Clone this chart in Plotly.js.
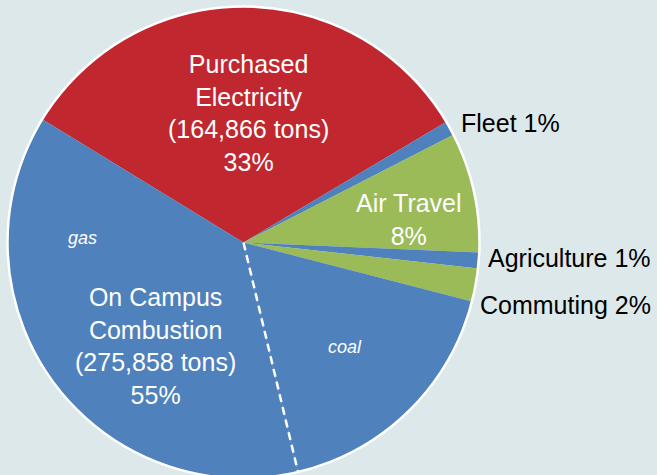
<!DOCTYPE html>
<html>
<head>
<meta charset="utf-8">
<script src="https://cdn.plot.ly/plotly-3.0.1.min.js"></script>
<style>
  html, body { margin: 0; padding: 0; overflow: hidden; background: #dde8ea; }
  #chart { width: 657px; height: 490px; }
</style>
</head>
<body>
<div id="chart"></div>
<script>
// ---- data ----
const categories = ['Purchased Electricity', 'Fleet', 'Air Travel', 'Agriculture', 'Commuting', 'On Campus Combustion - coal', 'On Campus Combustion - gas'];
const tons = [164866, 5000, 41500, 5400, 11500, 87000, 188858];
const onCampusTons = 275858;
const subLabels = ['coal', 'gas'];

// ---- styles ----
const RED = '#c1272f', BLUE = '#4f81bd', GREEN = '#9bbb59';
const sliceColors = [RED, BLUE, GREEN, BLUE, GREEN, BLUE, BLUE];
const W = 657, H = 490;
const FONT = 'Liberation Sans, Arial, sans-serif';

const total = tons.reduce((a, b) => a + b, 0);
const pct = v => Math.round(100 * v / total) + '%';
const fmt = v => v.toLocaleString('en-US');

// pie geometry (px)
const cxPx = 243.5, cyPx = 242.5, rPx = 236;
const domX = [(cxPx - rPx) / W, (cxPx + rPx) / W];
const domY = [1 - (cyPx + rPx) / H, 1 - (cyPx - rPx) / H];
const rotation = -58.5;

const pie = {
  type: 'pie',
  labels: categories,
  values: tons,
  sort: false,
  direction: 'clockwise',
  rotation: rotation,
  domain: { x: domX, y: domY },
  marker: { colors: sliceColors, line: { width: 0 } },
  textinfo: 'none',
  hoverinfo: 'none',
  showlegend: false
};
const ring = {
  type: 'pie',
  labels: ['outline'],
  values: [1],
  sort: false,
  domain: { x: domX, y: domY },
  marker: { colors: ['rgba(0,0,0,0)'], line: { color: '#ffffff', width: 2.5 } },
  textinfo: 'none',
  hoverinfo: 'none',
  showlegend: false
};

// dashed divider between coal and gas, from data angles
const cumCoal = tons.slice(0, 6).reduce((a, b) => a + b, 0);
const ang = (rotation + 360 * cumCoal / total) * Math.PI / 180;
const cxP = cxPx / W, cyP = 1 - cyPx / H;
const x1 = cxP + rPx * Math.sin(ang) / W;
const y1 = cyP + rPx * Math.cos(ang) / H;

const white = { family: FONT, size: 25, color: '#ffffff' };
const black = { family: FONT, size: 25, color: '#000000' };
const ital = { family: FONT, size: 18, color: '#ffffff', style: 'italic' };
const px = (x) => x / W, py = (y) => 1 - y / H;

const annotations = [
  { text: 'Purchased<br>Electricity<br>(' + fmt(tons[0]) + ' tons)<br>' + pct(tons[0]), x: px(248), y: py(113), font: white, xanchor: 'center', yanchor: 'middle' },
  { text: 'Air Travel<br>' + pct(tons[2]), x: px(409), y: py(219), font: white, xanchor: 'center', yanchor: 'middle' },
  { text: 'On Campus<br>Combustion<br>(' + fmt(onCampusTons) + ' tons)<br>' + pct(tons[5] + tons[6]), x: px(155), y: py(346), font: white, xanchor: 'center', yanchor: 'middle' },
  { text: subLabels[1], x: px(82), y: py(238), font: ital, xanchor: 'center', yanchor: 'middle' },
  { text: subLabels[0], x: px(345), y: py(347), font: ital, xanchor: 'center', yanchor: 'middle' },
  { text: 'Fleet ' + pct(tons[1]), x: px(460), y: py(123), font: black, xanchor: 'left', yanchor: 'middle' },
  { text: 'Agriculture ' + pct(tons[3]), x: px(487), y: py(258), font: black, xanchor: 'left', yanchor: 'middle' },
  { text: 'Commuting ' + pct(tons[4]), x: px(479), y: py(305), font: black, xanchor: 'left', yanchor: 'middle' }
].map(a => Object.assign({ xref: 'paper', yref: 'paper', showarrow: false, borderpad: 0 }, a));

const layout = {
  width: W, height: H,
  margin: { l: 0, r: 0, t: 0, b: 0 },
  paper_bgcolor: '#dde8ea',
  plot_bgcolor: '#dde8ea',
  showlegend: false,
  annotations: annotations,
  shapes: [{
    type: 'line', xref: 'paper', yref: 'paper',
    x0: cxP, y0: cyP, x1: x1, y1: y1,
    line: { color: '#ffffff', width: 2.5, dash: '8px,5px' }
  }]
};

Plotly.newPlot('chart', [pie, ring], layout, { displayModeBar: false, staticPlot: true });
</script>
</body>
</html>
